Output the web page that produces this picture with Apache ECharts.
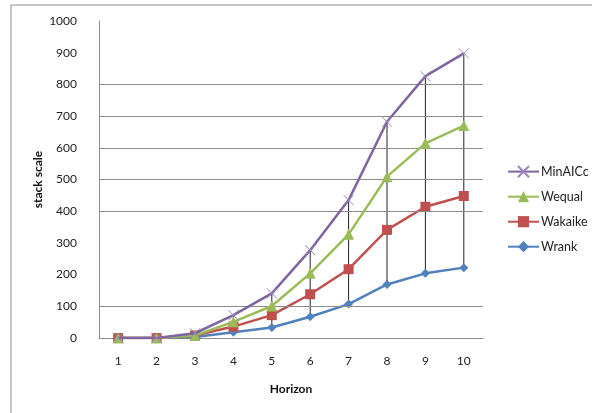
<!DOCTYPE html>
<html><head><meta charset="utf-8">
<script src="https://cdn.jsdelivr.net/npm/echarts@6/dist/echarts.min.js"></script>
<style>html,body{margin:0;padding:0;background:#fff}#c{width:592px;height:413px}</style>
</head><body><div id="c"></div>
<script>
const categories = ['1','2','3','4','5','6','7','8','9','10'];
const minAICc = [0, 0, 15, 72, 141, 277, 435, 682, 826, 898];
const wequal  = [0, 0, 8, 51, 101, 204, 327, 509, 614, 670];
const wakaike = [0, 0, 8, 36, 72, 138, 217, 341, 414, 448];
const wrank   = [0, 0, 3, 18, 33, 67, 107, 169, 204, 222];
const shownGrid = [100, 400, 500, 600, 700, 800];

const font = 'Lato';
const chart = echarts.init(document.getElementById('c'));
const dropData = categories.map((c, i) => {
  const vals = [minAICc[i], wequal[i], wakaike[i], wrank[i]];
  return [i, Math.min(...vals), Math.max(...vals)];
});

chart.setOption({
  animation: false,
  backgroundColor: '#fff',
  textStyle: { fontFamily: font },
  graphic: [{ type: 'rect', shape: { x: 11, y: 5, width: 800, height: 600 },
    style: { fill: 'none', stroke: '#8c8c8c', lineWidth: 1 }, silent: true, z: -1 }],
  grid: { left: 99, right: 109, top: 21, bottom: 75 },
  legend: {
    orient: 'vertical', left: 502, top: 160, itemGap: 12, itemWidth: 31, itemHeight: 14,
    textStyle: { fontFamily: font, fontSize: 12.5, color: '#222', padding: [0,0,0,-3] },
    data: ['MinAICc', 'Wequal', 'Wakaike', 'Wrank']
  },
  xAxis: {
    type: 'category', data: categories, boundaryGap: true,
    name: 'Horizon', nameLocation: 'middle', nameGap: 45, nameMoveOverlap: false,
    nameTextStyle: { fontFamily: font, fontWeight: 'bold', fontSize: 12, color: '#111' },
    axisLine: { lineStyle: { color: '#8c8c8c' } },
    axisTick: { show: false },
    axisLabel: { fontFamily: font, fontSize: 12, color: '#222', margin: 17 }
  },
  yAxis: {
    type: 'value', min: 0, max: 1000, interval: 100,
    name: 'stack scale', nameLocation: 'middle', nameGap: 55, nameRotate: 90, nameMoveOverlap: false,
    nameTextStyle: { fontFamily: font, fontWeight: 'bold', fontSize: 12, color: '#111' },
    axisLine: { show: true, lineStyle: { color: '#8c8c8c' } },
    axisTick: { show: false },
    axisLabel: { fontFamily: font, fontSize: 12, color: '#222', margin: 22, formatter: v => String(v) },
    splitLine: { show: false }
  },
  series: [
    {
      type: 'custom', name: 'drop', silent: true, z: 1,
      data: dropData,
      renderItem: (params, api) => {
        const p1 = api.coord([api.value(0), api.value(1)]);
        const p2 = api.coord([api.value(0), api.value(2)]);
        return { type: 'line', shape: { x1: p1[0], y1: p1[1], x2: p2[0], y2: p2[1] },
          style: { stroke: '#222', lineWidth: 1 } };
      },
      markLine: {
        silent: true, symbol: 'none', label: { show: false },
        lineStyle: { color: '#8c8c8c', width: 1, type: 'solid' },
        data: shownGrid.map(v => ({ yAxis: v }))
      }
    },
    { name: 'Wrank', type: 'line', data: wrank, z: 3,
      symbol: 'diamond', symbolSize: 9, color: '#4F81BD',
      lineStyle: { width: 2.5, color: '#4F81BD' }, itemStyle: { color: '#4F81BD' } },
    { name: 'Wakaike', type: 'line', data: wakaike, z: 4,
      symbol: 'rect', symbolSize: 10, color: '#C0504D',
      lineStyle: { width: 2.5, color: '#C0504D' }, itemStyle: { color: '#C0504D' } },
    { name: 'Wequal', type: 'line', data: wequal, z: 5,
      symbol: 'triangle', symbolSize: 11, color: '#9BBB59',
      lineStyle: { width: 2.5, color: '#9BBB59' }, itemStyle: { color: '#9BBB59' } },
    { name: 'MinAICc', type: 'line', data: minAICc, z: 6,
      symbol: 'path://M0,0L10,10M10,0L0,10', symbolSize: 10, color: '#8064A2',
      lineStyle: { width: 2.5, color: '#8064A2' },
      itemStyle: { color: 'rgba(0,0,0,0)', borderColor: '#9a86c0', borderWidth: 1 } }
  ]
});
</script></body></html>
